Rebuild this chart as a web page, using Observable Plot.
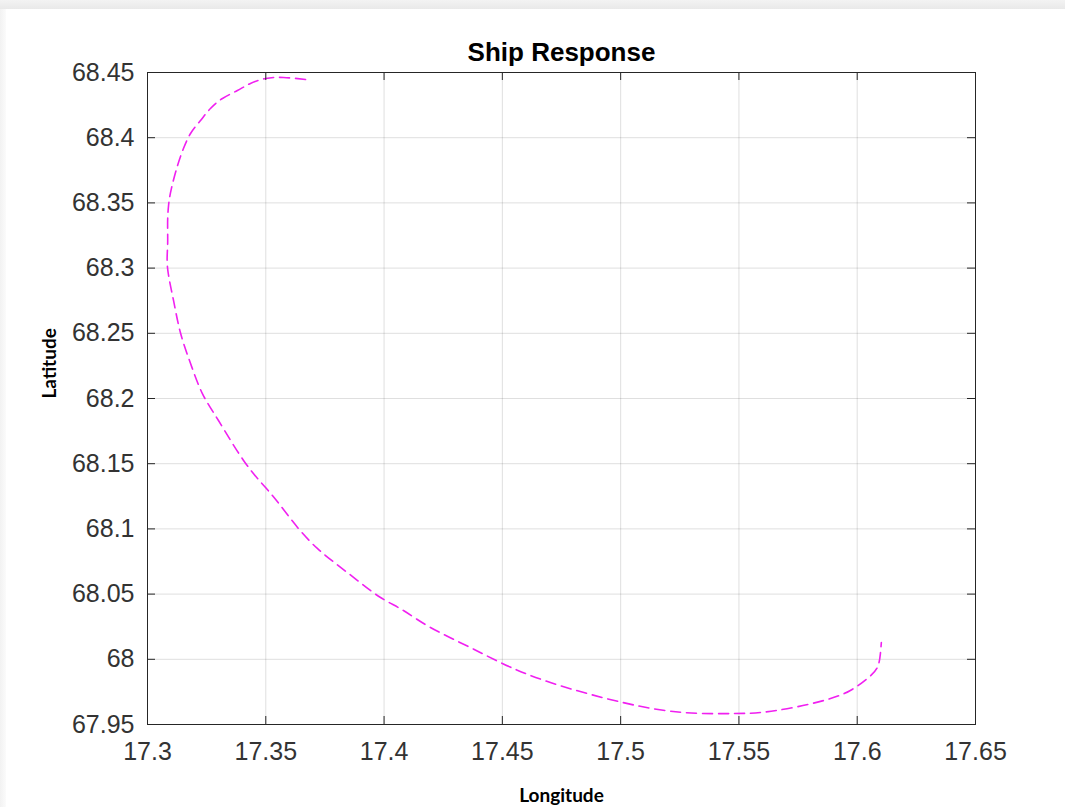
<!DOCTYPE html>
<html>
<head>
<meta charset="utf-8">
<script src="https://cdn.jsdelivr.net/npm/d3@7"></script>
<script src="https://cdn.jsdelivr.net/npm/@observablehq/plot@0.6"></script>
<style>
  html, body { margin: 0; padding: 0; background: #ffffff; }
  #wrap { position: relative; width: 1065px; height: 807px; overflow: hidden; background: #ffffff; }
  #topband { position: absolute; left: 0; top: 0; width: 1065px; height: 9px; background: linear-gradient(#f3f3f3, #e9e9e9); }
  #leftband { position: absolute; left: 0; top: 9px; width: 6px; height: 798px; background: linear-gradient(90deg, #f2f2f2, #fbfbfb); }
  #chart { position: absolute; left: 0; top: 0; }
</style>
</head>
<body>
<div id="wrap">
  <div id="topband"></div>
  <div id="leftband"></div>
  <div id="chart"></div>
</div>
<script>
// Trajectory (longitude, latitude)
const lon = [17.3668, 17.3575, 17.3499, 17.3435, 17.3380, 17.3317, 17.3266, 17.3224, 17.3182, 17.3152,
             17.3127, 17.3101, 17.3089, 17.3085, 17.3085, 17.3085, 17.3110, 17.3139, 17.3182, 17.3232,
             17.3300, 17.3406, 17.3499, 17.3562, 17.3638, 17.3718, 17.3795, 17.3888, 17.3985, 17.4082,
             17.4196, 17.4365, 17.4500, 17.4703, 17.5008, 17.5265, 17.5477, 17.5591, 17.5730, 17.5874,
             17.5971, 17.6043, 17.6085, 17.6098, 17.6102];
const lat = [68.4446, 68.4462, 68.4454, 68.4416, 68.4362, 68.4301, 68.4224, 68.4132, 68.4032, 68.3917,
             68.3787, 68.3610, 68.3480, 68.3342, 68.3173, 68.2997, 68.2752, 68.2506, 68.2268, 68.2038,
             68.1831, 68.1525, 68.1317, 68.1179, 68.1003, 68.0850, 68.0735, 68.0604, 68.0474, 68.0374,
             68.0244, 68.0090, 67.9968, 67.9822, 67.9669, 67.9592, 67.9584, 67.9592, 67.9630, 67.9692,
             67.9761, 67.9853, 67.9937, 68.0044, 68.0129];

const xTicks = [17.3, 17.35, 17.4, 17.45, 17.5, 17.55, 17.6, 17.65];
const yTicks = [67.95, 68, 68.05, 68.1, 68.15, 68.2, 68.25, 68.3, 68.35, 68.4, 68.45];

const titleText = "Ship Response";
const xLabel = "Longitude";
const yLabel = "Latitude";

const track = lon.map((x, i) => ({lon: x, lat: lat[i]}));

const plotH = 807 - 72 - 83;
const plotW = 1065 - 147 - 90;
const tickLen = 8;
const axisColor = "#262626";

const chart = Plot.plot({
  width: 1065,
  height: 807,
  marginLeft: 147,
  marginRight: 90,
  marginTop: 72,
  marginBottom: 83,
  style: {background: "transparent", fontFamily: "'Liberation Sans', Arial, sans-serif", overflow: "visible"},
  x: {domain: [17.3, 17.65]},
  y: {domain: [67.95, 68.45]},
  marks: [
    Plot.gridX(xTicks, {stroke: axisColor, strokeOpacity: 0.15, strokeWidth: 1}),
    Plot.gridY(yTicks, {stroke: axisColor, strokeOpacity: 0.15, strokeWidth: 1}),
    Plot.line(track, {x: "lon", y: "lat", stroke: "#f020f0", strokeWidth: 1.6, strokeDasharray: "10,6", curve: "natural"}),
    // inward ticks on all four sides
    Plot.tickX(xTicks, {x: d => d, stroke: axisColor, insetTop: plotH - tickLen}),
    Plot.tickX(xTicks, {x: d => d, stroke: axisColor, insetBottom: plotH - tickLen}),
    Plot.tickY(yTicks, {y: d => d, stroke: axisColor, insetRight: plotW - tickLen}),
    Plot.tickY(yTicks, {y: d => d, stroke: axisColor, insetLeft: plotW - tickLen}),
    Plot.frame({stroke: axisColor, strokeWidth: 1}),
    Plot.axisX(xTicks, {anchor: "bottom", tickSize: 0, tickPadding: 18, fontSize: 25, fill: "#333333", tickFormat: d => String(d), label: null}),
    Plot.axisY(yTicks, {anchor: "left", tickSize: 0, tickPadding: 13, fontSize: 25, fill: "#333333", tickFormat: d => String(d), label: null}),
    Plot.text([titleText], {frameAnchor: "top", text: d => d, dy: -12, fontSize: 26, fontWeight: "bold", fill: "#000", lineAnchor: "bottom"}),
    Plot.text([xLabel], {frameAnchor: "bottom", text: d => d, dy: 71, fontSize: 19, fontWeight: "bold", fill: "#000", fontFamily: "Lato, sans-serif", lineAnchor: "middle"}),
    Plot.text([yLabel], {frameAnchor: "left", text: d => d, dx: -98, rotate: -90, fontSize: 19, fontWeight: "bold", fill: "#000", fontFamily: "Lato, sans-serif"})
  ]
});
document.getElementById("chart").appendChild(chart);
</script>
</body>
</html>
